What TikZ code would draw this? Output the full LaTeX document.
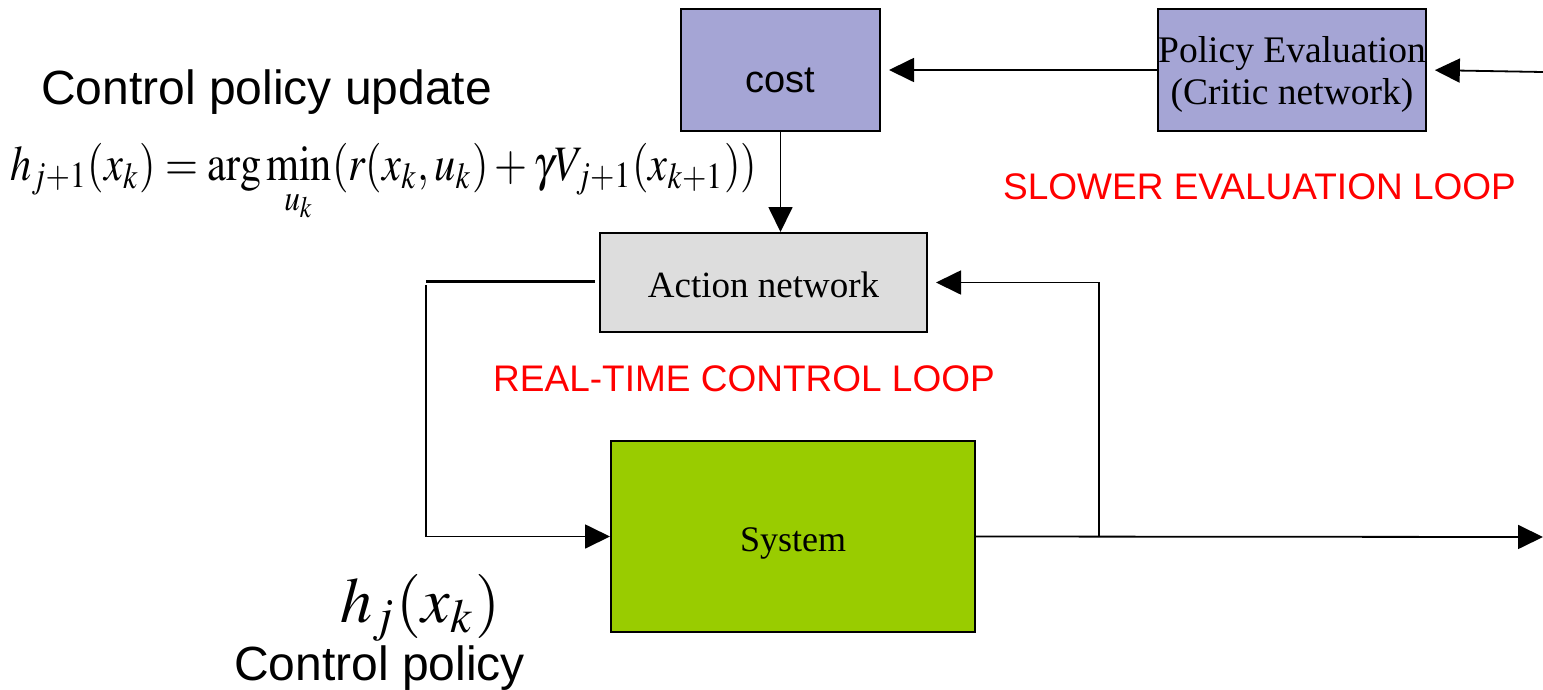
\documentclass[tikz,border=0pt]{standalone}
\usepackage{mathptmx}
\usepackage[no-math]{fontspec}
\setmainfont{Liberation Serif}
\newfontfamily\arialf{Liberation Sans}
\usepackage{graphicx}
\usetikzlibrary{arrows.meta,calc}
\definecolor{evalblue}{RGB}{165,165,213}
\definecolor{actgray}{RGB}{221,221,221}
\definecolor{sysgreen}{RGB}{153,204,0}
\definecolor{loopred}{RGB}{255,0,0}
\tikzset{
  blockbox/.style={draw=black,line width=2pt,inner sep=0pt},
  conn/.style={line width=1.8pt},
  arr/.style={conn,-{Triangle[length=25pt,width=24pt]}},
  redlabel/.style={text=loopred,font=\arialf\fontsize{37}{40}\selectfont,inner sep=0pt},
}
\newcommand\lowered[2]{\raisebox{#1}[0pt][0pt]{#2}}
\begin{document}
\begin{tikzpicture}[x=1pt,y=-1pt]
\useasboundingbox (0,0) rectangle (1543,689);
% blocks
\node[blockbox,fill=evalblue,minimum width=199pt,minimum height=122pt,font=\arialf\fontsize{38}{40}\selectfont] (cost) at (780.5,70) {\lowered{-22pt}{cost}};
\node[blockbox,fill=evalblue,minimum width=264pt,minimum height=122pt,font=\fontsize{37.5}{42}\selectfont] (pe) at (1292,70) {\lowered{8pt}{\begin{tabular}[t]{@{}c@{}}Policy Evaluation\\(Critic network)\end{tabular}}};
\node[blockbox,fill=actgray,minimum width=327pt,minimum height=99pt,font=\fontsize{37}{40}\selectfont] (action) at (763.5,282.5) {\lowered{-15pt}{Action network}};
\node[blockbox,fill=sysgreen,minimum width=364pt,minimum height=191pt,font=\fontsize{36}{40}\selectfont] (system) at (793,536.5) {\lowered{-15pt}{System}};
% coordinates
\coordinate (inR) at (1543,72);
\coordinate (outR) at (1543,537);
\coordinate (leftTop) at (426,281);
\coordinate (leftStart) at (595,281);
\coordinate (fb) at (1099,537);
% connectors
\draw[arr,shorten >=8pt] (pe.west) -- (cost.east);
\draw[arr,shorten >=8pt] (inR) -- (pe.east);
\draw[arr] (cost.south) -- (cost.south |- action.north);
\draw[line width=3pt] (leftStart) -- (leftTop);
\draw[arr] ($(leftTop)+(0,4)$) |- (system.west);
\draw[arr] (system.east) -- (outR);
\draw[arr,shorten >=8pt] (fb) |- (action.east);
% texts
\node[anchor=base west,inner sep=0pt,font=\arialf\fontsize{48}{50}\selectfont] (cpu) at (41,104) {Control policy update};
\node[anchor=north west,inner sep=0pt] (formula) at (10,143) {\resizebox*{747pt}{80pt}{$\displaystyle h_{j+1}(x_k)=\arg\min_{u_k}(r(x_k,u_k)+\gamma V_{j+1}(x_{k+1}))$}};
\node[redlabel,anchor=base west] (slow) at (1003,199) {SLOWER EVALUATION LOOP};
\node[redlabel,anchor=base west] (rt) at (493,391) {REAL-TIME CONTROL LOOP};
\node[anchor=north west,inner sep=0pt] (hj) at (340,574) {\resizebox{160pt}{!}{$h_j(x_k)$}};
\node[anchor=base west,inner sep=0pt,font=\arialf\fontsize{48}{50}\selectfont] (cp) at (234,680) {Control policy};
\end{tikzpicture}
\end{document}
